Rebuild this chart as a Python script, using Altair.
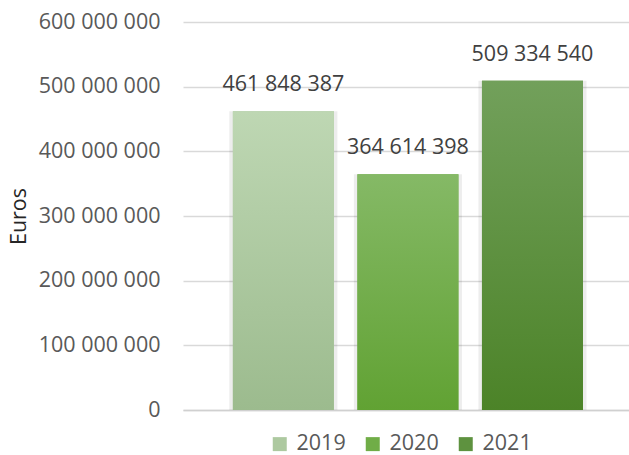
import altair as alt
import pandas as pd

years = ["2019", "2020", "2021"]
values = [461848387, 364614398, 509334540]
labels = ["461 848 387", "364 614 398", "509 334 540"]
legend_colors = ["#adc9a0", "#70ad47", "#5e923f"]
top_colors = ["#bed7b3", "#85b966", "#72a05b"]
bottom_colors = ["#9cbb8e", "#61a233", "#4c8328"]
y_ticks = [0, 100000000, 200000000, 300000000, 400000000, 500000000, 600000000]

df = pd.DataFrame({"year": years, "value": values, "label": labels})

FONT = "Open Sans"
FS = 21.5

xscale = alt.Scale(domain=years, paddingInner=0.189, paddingOuter=0.385, align=0.52)
x_enc = alt.X("year:N", scale=xscale,
              axis=alt.Axis(labels=False, ticks=False, title=None, domain=True,
                            grid=False, domainColor="#d0d0d0", domainWidth=1.5))
y_enc = alt.Y("value:Q", scale=alt.Scale(domain=[0, 600000000], nice=False),
              axis=alt.Axis(values=y_ticks,
                            labelExpr="replace(format(datum.value, ',d'), regexp(',', 'g'), ' ')",
                            grid=True, gridColor="#d9d9d9", gridWidth=1.5,
                            ticks=False, domain=False, labelPadding=23,
                            labelFont=FONT, labelFontSize=FS, labelColor="#595959",
                            title="Euros", titleFont=FONT, titleFontSize=FS,
                            titleFontWeight="normal", titleColor="#262626",
                            titleAngle=-90, titleX=-164, titleY=194,
                            titleAlign="center", titleBaseline="middle"))

base = alt.Chart(df)

shadow = base.mark_bar(color="#000000", opacity=0.07, width={"band": 1.07}).encode(
    x=x_enc, y=y_enc)

legend_layer = base.mark_bar().encode(
    x=x_enc, y=y_enc,
    color=alt.Color("year:N",
                    scale=alt.Scale(domain=years, range=legend_colors),
                    legend=alt.Legend(orient="none", legendX=86, legendY=411,
                                      direction="horizontal", title=None,
                                      symbolType="square", symbolSize=196,
                                      symbolStrokeWidth=0, labelFont=FONT,
                                      labelFontSize=FS, labelColor="#595959",
                                      columnPadding=16, labelOffset=6)))

grad_layers = []
for yr, tc, bc in zip(years, top_colors, bottom_colors):
    grad_layers.append(
        base.transform_filter(alt.datum.year == yr).mark_bar(
            color=alt.Gradient(gradient="linear",
                               stops=[alt.GradientStop(color=tc, offset=0),
                                      alt.GradientStop(color=bc, offset=1)],
                               x1=0, x2=0, y1=0, y2=1)
        ).encode(x=x_enc, y=y_enc)
    )

text = base.mark_text(dy=-26, baseline="middle", font=FONT, fontSize=FS,
                      color="#404040").encode(x=x_enc, y=y_enc, text="label:N")

chart = alt.layer(shadow, legend_layer, *grad_layers, text).properties(
    width=446, height=388,
    autosize=alt.AutoSizeParams(type="none"),
    padding={"left": 183, "top": 22, "right": 0, "bottom": 45},
).configure(background="white").configure_view(stroke=None)

chart.save("out.html", embed_options={"renderer": "svg", "actions": False})
